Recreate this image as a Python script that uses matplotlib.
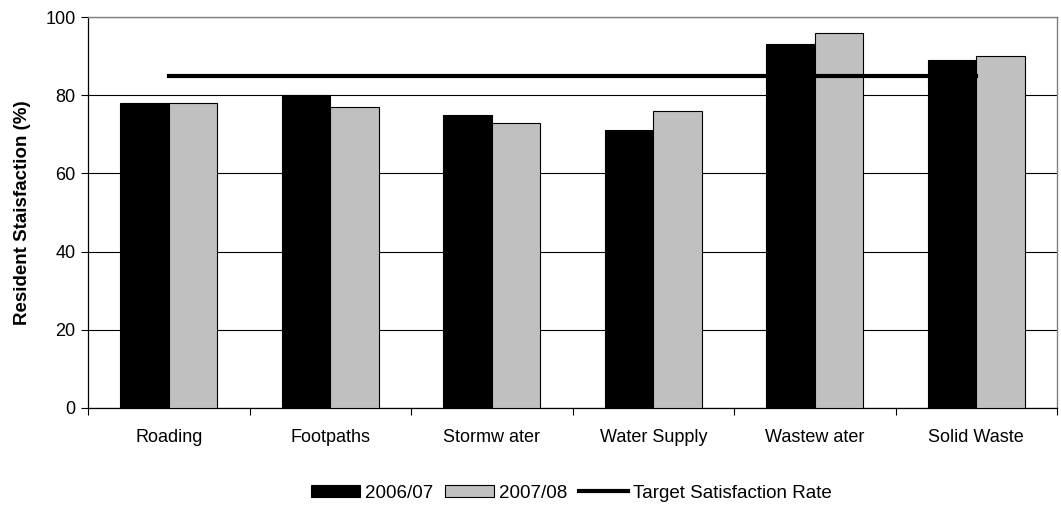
import matplotlib
matplotlib.use("Agg")
import matplotlib.pyplot as plt
import numpy as np
from matplotlib.ticker import FixedLocator, NullFormatter, FixedFormatter

categories = ["Roading", "Footpaths", "Stormw ater", "Water Supply", "Wastew ater", "Solid Waste"]
s2006 = [78, 80, 75, 71, 93, 89]
s2007 = [78, 77, 73, 76, 96, 90]
target = [85, 85, 85, 85, 85, 85]
series_names = ["2006/07", "2007/08", "Target Satisfaction Rate"]

plt.rcParams['font.family'] = ['Liberation Sans', 'DejaVu Sans']

fig = plt.figure(figsize=(10.61, 5.05), dpi=100)
ax = fig.add_axes([88/1061, 1 - 408/505, (1057-88)/1061, (408-17)/505])

x = np.arange(len(categories))
w = 0.3
b1 = ax.bar(x - w/2, s2006, width=w, color='black', edgecolor='black', linewidth=0.8, label=series_names[0], zorder=3)
b2 = ax.bar(x + w/2, s2007, width=w, color='#c0c0c0', edgecolor='black', linewidth=0.8, label=series_names[1], zorder=3)
l1, = ax.plot(x, target, color='black', linewidth=3, label=series_names[2], zorder=4)

ax.set_xlim(-0.5, len(categories) - 0.5)
ax.set_ylim(0, 100)
ax.set_yticks(np.arange(0, 101, 20))
ax.yaxis.grid(True, color='black', linewidth=0.8)
ax.set_axisbelow(True)

ax.xaxis.set_major_locator(FixedLocator(np.arange(-0.5, len(categories), 1.0)))
ax.xaxis.set_major_formatter(NullFormatter())
ax.xaxis.set_minor_locator(FixedLocator(x))
ax.xaxis.set_minor_formatter(FixedFormatter(categories))
ax.tick_params(axis='x', which='major', direction='out', length=5, width=0.8, color='black')
ax.tick_params(axis='x', which='minor', length=0, pad=15, labelsize=13)
ax.tick_params(axis='y', direction='out', length=5, width=0.8, labelsize=13, pad=4)

for side in ['top', 'right']:
    ax.spines[side].set_color('#808080')
    ax.spines[side].set_linewidth(1.0)
for side in ['left', 'bottom']:
    ax.spines[side].set_color('black')
    ax.spines[side].set_linewidth(0.9)

ax.set_ylabel("Resident Staisfaction (%)", fontsize=13.5, fontweight='bold', labelpad=10)

fig.legend(handles=[b1, b2, l1], loc='center', bbox_to_anchor=(571.5/1061, 1 - 493/505), ncol=3, frameon=False,
           fontsize=13.5, handlelength=2.6, handleheight=0.65, handletextpad=0.3, columnspacing=0.6,
           borderpad=0, borderaxespad=0)

fig.savefig("out.png", dpi=100)
